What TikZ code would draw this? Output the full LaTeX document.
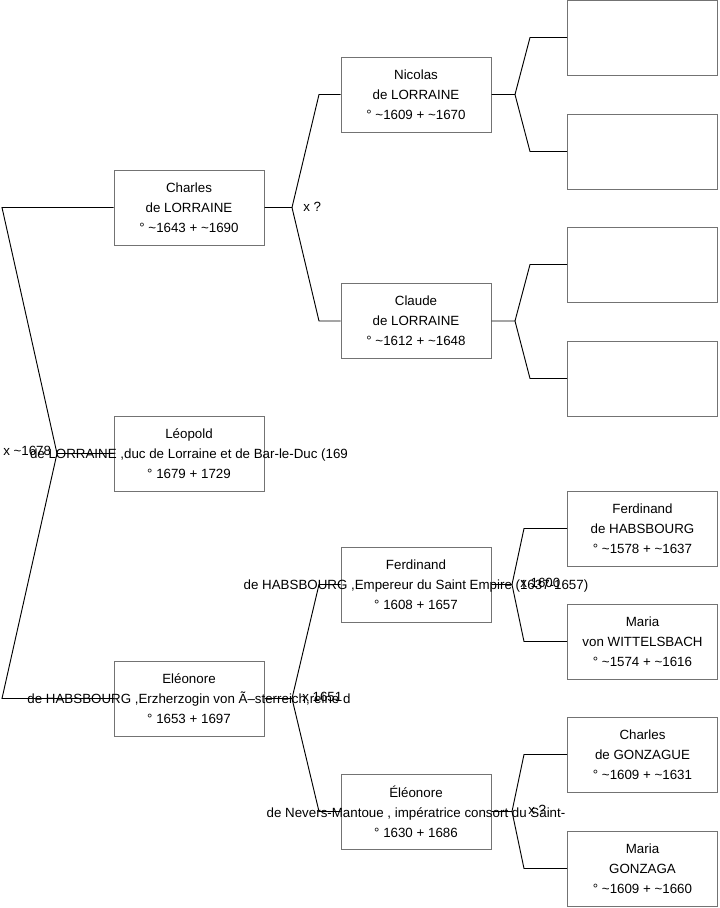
\documentclass[tikz,border=0pt]{standalone}
\usepackage{fontspec}
\setmainfont{Liberation Sans}
\usetikzlibrary{positioning}
\newcommand{\appr}{\textasciitilde}
\newcommand{\spill}[1]{\makebox[0pt]{#1}}

\begin{document}
\begin{tikzpicture}[
    x=0.75pt, y=-0.75pt,
    person/.style={rectangle, draw=black!55, line width=0.75pt, fill=none,
                   minimum width=112.5pt, minimum height=56.25pt, align=center,
                   inner sep=0pt, font=\fontsize{10}{15}\selectfont},
    link/.style={draw=black, line width=0.7pt},
    union/.style={font=\fontsize{10}{12}\selectfont, anchor=west, inner sep=0pt}
]
    \useasboundingbox (0,0) rectangle (719,908);
    \node[person] (charles) at (189,207.5) {Charles\\de LORRAINE\\° \appr1643 + \appr1690};
    \node[person] (leopold) at (189,453.5) {Léopold\\\spill{de LORRAINE ,duc de Lorraine et de Bar-le-Duc (169}\\° 1679 + 1729};
    \node[person] (eleonore) at (189,698.5) {Eléonore\\\spill{de HABSBOURG ,Erzherzogin von Ã–sterreich,reine d}\\° 1653 + 1697};
    \node[person] (nicolas) at (416,94.5) {Nicolas\\de LORRAINE\\° \appr1609 + \appr1670};
    \node[person] (claude) at (416,321) {Claude\\de LORRAINE\\° \appr1612 + \appr1648};
    \node[person] (ferdinand) at (416,584.5) {Ferdinand\\\spill{de HABSBOURG ,Empereur du Saint Empire (1637-1657)}\\° 1608 + 1657};
    \node[person] (nevers) at (416,811.5) {Éléonore\\\spill{de Nevers-Mantoue , impératrice consort du Saint-}\\° 1630 + 1686};
    \node[person] (nicolasfa) at (642.5,37.5) {};
    \node[person] (nicolasmo) at (642.5,151.5) {};
    \node[person] (claudefa) at (642.5,264.5) {};
    \node[person] (claudemo) at (642.5,378.5) {};
    \node[person] (ferdfa) at (642.5,528.5) {Ferdinand\\de HABSBOURG\\° \appr1578 + \appr1637};
    \node[person] (ferdmo) at (642.5,641.5) {Maria\\von WITTELSBACH\\° \appr1574 + \appr1616};
    \node[person] (neversfa) at (642.5,754.5) {Charles\\de GONZAGUE\\° \appr1609 + \appr1631};
    \node[person] (neversmo) at (642.5,868.5) {Maria\\GONZAGA\\° \appr1609 + \appr1660};

    \coordinate (leopoldfork) at (57,453.5);
    \coordinate (leopoldup) at (2,207.5);
    \coordinate (leopolddown) at (2,698.5);
    \draw[link] (leopold.west) -- (leopoldfork) -- (leopoldup) -- (charles.west);
    \draw[link] (leopoldfork) -- (leopolddown) -- (eleonore.west);
    \coordinate (charlesfork) at (292,207.5);
    \coordinate (charlesup) at (319,94.5);
    \coordinate (charlesdown) at (319,321);
    \draw[link] (charles.east) -- (charlesfork) -- (charlesup) -- (nicolas.west);
    \draw[link] (charlesfork) -- (charlesdown) -- (claude.west);
    \coordinate (eleonorefork) at (292,698.5);
    \coordinate (eleonoreup) at (319,584.5);
    \coordinate (eleonoredown) at (319,811.5);
    \draw[link] (eleonore.east) -- (eleonorefork) -- (eleonoreup) -- (ferdinand.west);
    \draw[link] (eleonorefork) -- (eleonoredown) -- (nevers.west);
    \coordinate (nicolasfork) at (515,94.5);
    \coordinate (nicolasup) at (530,37.5);
    \coordinate (nicolasdown) at (530,151.5);
    \draw[link] (nicolas.east) -- (nicolasfork) -- (nicolasup) -- (nicolasfa.west);
    \draw[link] (nicolasfork) -- (nicolasdown) -- (nicolasmo.west);
    \coordinate (claudefork) at (515,321);
    \coordinate (claudeup) at (530,264.5);
    \coordinate (claudedown) at (530,378.5);
    \draw[link] (claude.east) -- (claudefork) -- (claudeup) -- (claudefa.west);
    \draw[link] (claudefork) -- (claudedown) -- (claudemo.west);
    \coordinate (ferdfork) at (512,584.5);
    \coordinate (ferdup) at (524,528.5);
    \coordinate (ferddown) at (524,641.5);
    \draw[link] (ferdinand.east) -- (ferdfork) -- (ferdup) -- (ferdfa.west);
    \draw[link] (ferdfork) -- (ferddown) -- (ferdmo.west);
    \coordinate (neversfork) at (512,811.5);
    \coordinate (neversup) at (524,754.5);
    \coordinate (neversdown) at (524,868.5);
    \draw[link] (nevers.east) -- (neversfork) -- (neversup) -- (neversfa.west);
    \draw[link] (neversfork) -- (neversdown) -- (neversmo.west);

    \node[union] (leopoldx) at (3,451) {x \appr1678};
    \node[union] (charlesx) at (303,206.5) {x ?};
    \node[union] (eleonorex) at (302,696.5) {x 1651};
    \node[union] (ferdx) at (520,582.5) {x 1600};
    \node[union] (neversx) at (528,809.5) {x ?};
\end{tikzpicture}
\end{document}
